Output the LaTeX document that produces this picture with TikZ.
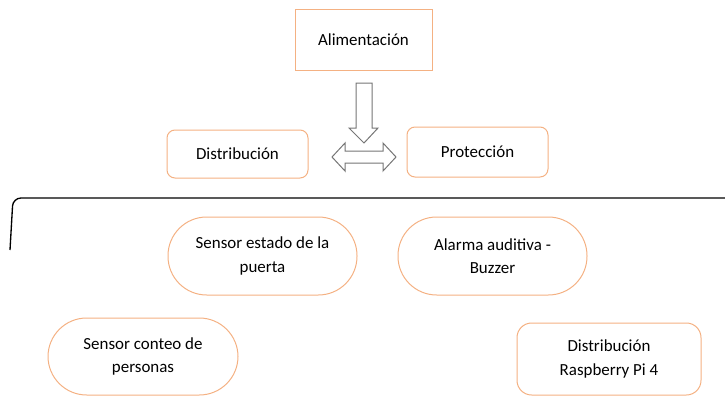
\documentclass[tikz,border=0pt]{standalone}
\usepackage{fontspec}
\setmainfont{Carlito}
\definecolor{boxorange}{RGB}{244,177,131}
\definecolor{arrowgray}{RGB}{118,118,118}
\tikzset{
  plainbox/.style={draw=boxorange, line width=0.75pt, align=center, inner sep=0pt},
  softbox/.style={plainbox, rounded corners=6pt},
  roundbox/.style={plainbox, rounded corners=29pt},
  blockarrow/.style={draw=arrowgray, fill=white, line width=0.75pt, line join=miter},
}
\begin{document}
\begin{tikzpicture}[x=0.75pt,y=-0.75pt,font=\fontsize{12.7pt}{17.3pt}\selectfont]

\useasboundingbox (0,0) rectangle (725,396);

%% top block
\node[plainbox, minimum width=137*0.75pt, minimum height=61*0.75pt] (alim) at (363.5,39.5) {Alimentación};
\node[softbox, minimum width=141*0.75pt, minimum height=48*0.75pt] (dist) at (237.5,154) {Distribución};
\node[softbox, minimum width=141*0.75pt, minimum height=50*0.75pt] (prot) at (477.5,152) {Protección};

%% block arrows
\newcommand\AX{364}
\draw[blockarrow] (\AX-8,83) -- (\AX+8,83) -- (\AX+8,128) -- (\AX+14,128)
  -- (\AX,143) -- (\AX-15,128) -- (\AX-8,128) -- cycle;
\draw[blockarrow] (332,157) -- (345,143) -- (345,151) -- (383,151) -- (383,143)
  -- (396,157) -- (383,171) -- (383,163) -- (345,163) -- (345,171) -- cycle;

%% bracket
\draw[line width=1pt, rounded corners=6pt] (725,198) -- (13,198) -- (10,250);

%% lower block
\node[roundbox, minimum width=189*0.75pt, minimum height=78*0.75pt] (puerta) at (262.5,256) {Sensor estado de la\\puerta};
\node[roundbox, minimum width=189*0.75pt, minimum height=78*0.75pt] (buzzer) at (492.5,256) {Alarma auditiva -\\Buzzer};
\node[roundbox, minimum width=190*0.75pt, minimum height=77*0.75pt] (conteo) at (143,356.5) {Sensor conteo de\\personas};
\node[plainbox, rounded corners=11pt, minimum width=184*0.75pt, minimum height=72*0.75pt] (rasp) at (609,359) {Distribución\\Raspberry Pi 4};

\end{tikzpicture}
\end{document}
